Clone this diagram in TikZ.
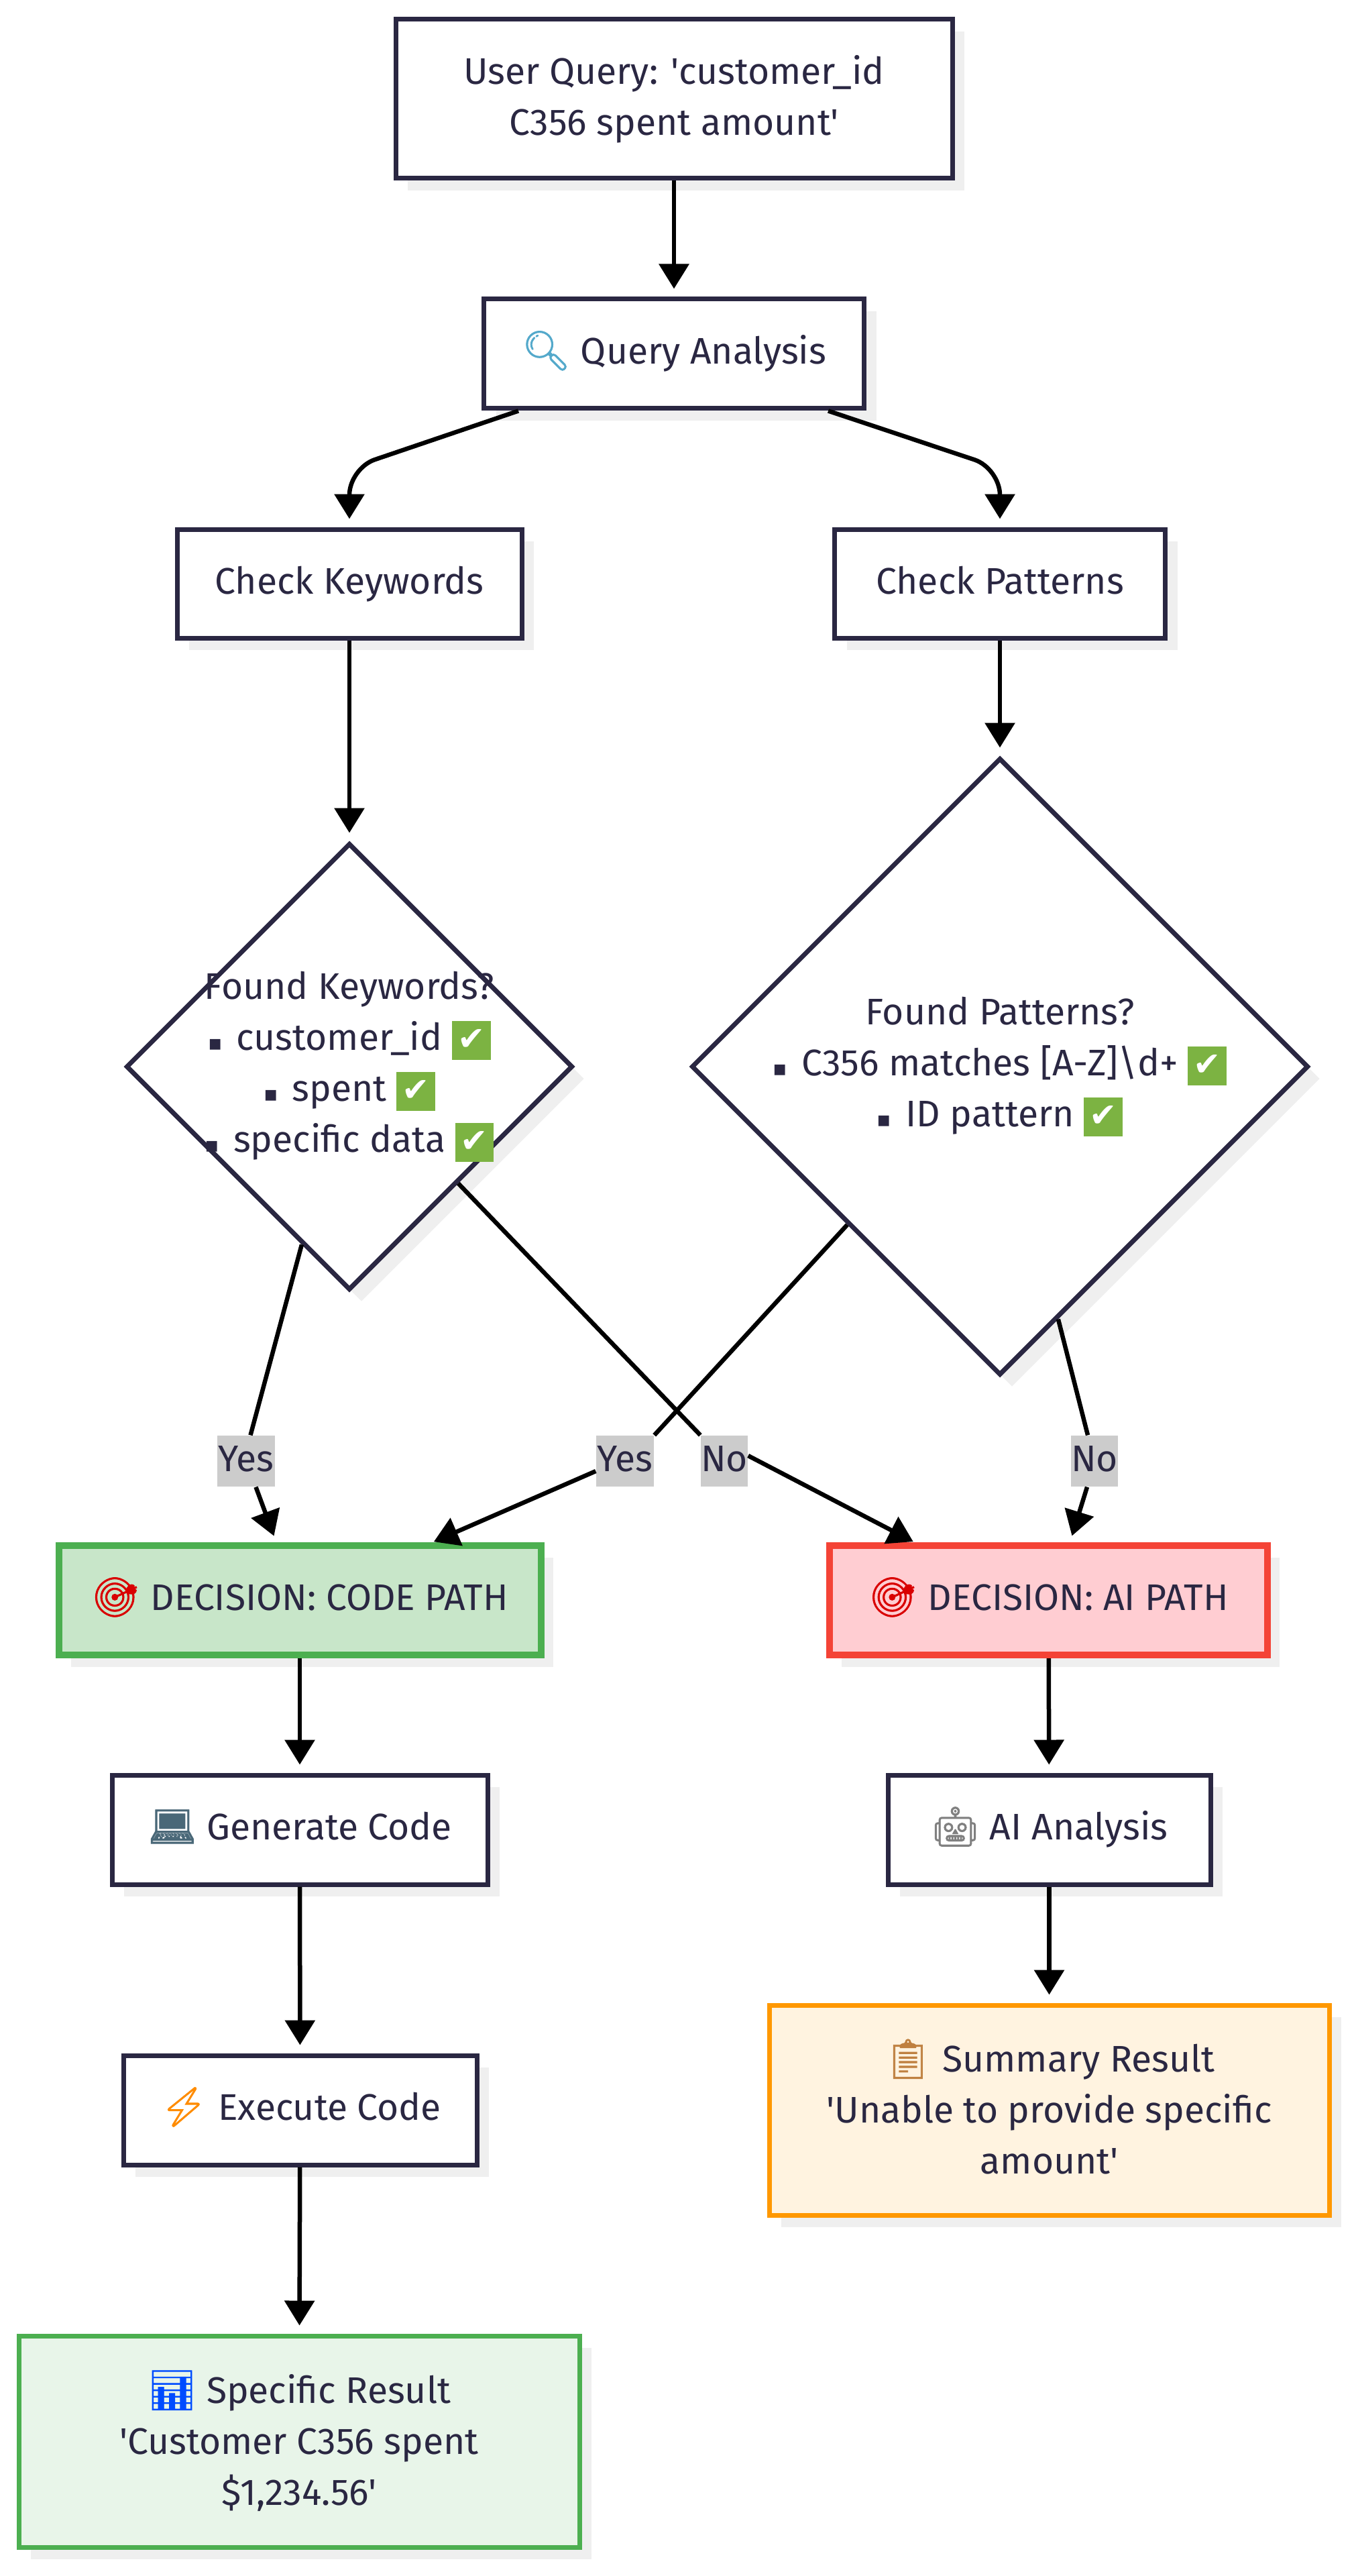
\documentclass[tikz,border=0pt]{standalone}
\usepackage{fontspec}
\setmainfont{Fira Sans}[Ligatures=TeXOff]
\newfontfamily\emojifont{Noto Emoji}[Scale=1.05,FakeBold=1.5]
\newfontfamily\symfont{DejaVu Sans}
\usetikzlibrary{arrows.meta,shapes.geometric,shadows}
\definecolor{inkdark}{HTML}{2A2742}
\definecolor{nodeshadow}{HTML}{EFEFEF}
\definecolor{labelgray}{HTML}{CCCCCC}
\definecolor{donegreen}{HTML}{7CB342}
\newcommand{\emo}[2]{{\color{#1}\emojifont #2}}
\newcommand{\bul}{{\symfont\fontsize{9}{9}\selectfont ▪}\hspace{6pt}}
\newcommand{\donemark}{{\setlength{\fboxsep}{1pt}\colorbox{donegreen}{\rule[-3pt]{0pt}{14.5pt}\makebox[14.4pt]{\textcolor{white}{\symfont\fontsize{14}{14}\selectfont ✔}}}}}
\newcommand{\linestrut}{\rule[-3pt]{0pt}{21.6pt}}
\tikzset{
  every node/.style={font=\fontsize{15.7}{21.6}\selectfont,text=inkdark,align=center},
  oneline/.style={execute at begin node=\strut,execute at end node=\strut},
  stacked/.style={execute at begin node=\linestrut,execute at end node=\linestrut},
  flowbox/.style={rectangle,draw=inkdark,fill=white,line width=.07cm,inner sep=0pt,
    drop shadow={shadow xshift=.18cm,shadow yshift=-.18cm,fill=nodeshadow,opacity=1}},
  choicebox/.style={flowbox,diamond,aspect=1},
  arrowline/.style={-{Triangle[length=.37cm,width=.44cm]},line width=.065cm,shorten >=.12cm},
  branchtag/.style={oneline,fill=labelgray,inner sep=0pt,minimum height=.75cm}
}
\begin{document}
\begin{tikzpicture}
  \useasboundingbox (0,0) rectangle (20.19,-38.40);

  \node[flowbox,stacked,minimum width=8.30cm,minimum height=2.37cm] (query) at (10.05,-1.475)
    {User Query: 'customer\_id\\C356 spent amount'};
  \node[flowbox,oneline,minimum width=5.67cm,minimum height=1.63cm] (analysis) at (10.05,-5.275)
    {\emo{cyan!60!gray}{🔍} Query Analysis};
  \node[flowbox,oneline,minimum width=5.14cm,minimum height=1.62cm] (keywords) at (5.21,-8.70) {Check Keywords};
  \node[flowbox,oneline,minimum width=4.93cm,minimum height=1.62cm] (patterns) at (14.91,-8.70) {Check Patterns};

  \node[choicebox,minimum width=6.66cm,minimum height=6.66cm] (foundkw) at (5.21,-15.90) {};
  \node[choicebox,minimum width=9.20cm,minimum height=9.20cm] (foundpt) at (14.91,-15.90) {};
  \node[stacked] (foundkwtext) at (foundkw) {Found Keywords?\\\bul customer\_id \donemark\\\bul spent \donemark\\\bul specific data \donemark};
  \node[stacked] (foundpttext) at (foundpt) {Found Patterns?\\\bul C356 matches [A-Z]\textbackslash d+ \donemark\\\bul ID pattern \donemark};

  \node[flowbox,oneline,draw={rgb,255:red,76;green,175;blue,80},fill={rgb,255:red,200;green,230;blue,201},line width=.1cm,
    minimum width=7.19cm,minimum height=1.63cm] (codepath) at (4.47,-23.855)
    {\emo{red!85!black}{🎯} DECISION: CODE PATH};
  \node[flowbox,oneline,draw={rgb,255:red,244;green,67;blue,54},fill={rgb,255:red,255;green,205;blue,210},line width=.1cm,
    minimum width=6.53cm,minimum height=1.63cm] (aipath) at (15.635,-23.855)
    {\emo{red!85!black}{🎯} DECISION: AI PATH};

  \node[flowbox,oneline,minimum width=5.60cm,minimum height=1.63cm] (gencode) at (4.47,-27.275)
    {\emo{cyan!40!black}{💻} Generate Code};
  \node[flowbox,oneline,minimum width=4.81cm,minimum height=1.63cm] (aianalysis) at (15.645,-27.275)
    {\emo{gray}{🤖} AI Analysis};
  \node[flowbox,oneline,minimum width=5.27cm,minimum height=1.63cm] (execcode) at (4.475,-31.455)
    {\emo{orange!90!yellow}{⚡} Execute Code};

  \node[flowbox,stacked,draw={rgb,255:red,76;green,175;blue,80},fill={rgb,255:red,232;green,245;blue,233},
    minimum width=8.36cm,minimum height=3.15cm] (coderesult) at (4.46,-36.395)
    {\emo{blue!70!cyan}{📊} Specific Result\\'Customer C356 spent\\\$1,234.56'};
  \node[flowbox,stacked,draw={rgb,255:red,255;green,152;blue,0},fill={rgb,255:red,255;green,243;blue,224},
    minimum width=8.35cm,minimum height=3.13cm] (airesult) at (15.645,-31.455)
    {\emo{brown}{📋} Summary Result\\'Unable to provide specific\\amount'};

  \node[branchtag,minimum width=.86cm] (yeskw) at (3.665,-21.78) {Yes};
  \node[branchtag,minimum width=.86cm] (yespt) at (9.32,-21.78) {Yes};
  \node[branchtag,minimum width=.64cm] (nokw) at (10.80,-21.78) {No};
  \node[branchtag,minimum width=.64cm] (nopt) at (16.32,-21.78) {No};

  \coordinate (kwbend) at (5.21,-6.98);
  \coordinate (ptbend) at (14.91,-6.98);

  \draw[arrowline] (query) -- (analysis);
  \draw[arrowline,rounded corners=.4cm] ([xshift=.55cm]analysis.south west) -- (kwbend) -- (keywords.north);
  \draw[arrowline,rounded corners=.4cm] ([xshift=-.57cm]analysis.south east) -- (ptbend) -- (patterns.north);
  \draw[arrowline] (keywords) -- (foundkw.north);
  \draw[arrowline] (patterns) -- (foundpt.north);

  \draw[line width=.065cm] (foundkw.255.7) -- ([xshift=.07cm]yeskw.north);
  \draw[arrowline,shorten >=.10cm] ([xshift=.15cm]yeskw.south) -- ([xshift=-.35cm]codepath.north);
  \draw[line width=.065cm] (foundpt.226.6) -- (yespt.north east);
  \draw[arrowline,shorten >=.02cm] ([yshift=-.15cm]yespt.west) -- ([xshift=1.98cm]codepath.north);
  \draw[line width=.065cm] (foundkw.313.6) -- (nokw.north west);
  \draw[arrowline,shorten >=.02cm] ([yshift=.08cm]nokw.east) -- ([xshift=-2.00cm]aipath.north);
  \draw[line width=.065cm] (foundpt.283.6) -- ([xshift=-.10cm]nopt.north);
  \draw[arrowline,shorten >=.10cm] ([xshift=-.11cm]nopt.south) -- ([xshift=.32cm]aipath.north);

  \draw[arrowline] (codepath) -- (gencode);
  \draw[arrowline] (gencode) -- (execcode);
  \draw[arrowline] (execcode) -- (coderesult);
  \draw[arrowline] (aipath) -- (aianalysis);
  \draw[arrowline] (aianalysis) -- (airesult);
\end{tikzpicture}
\end{document}
